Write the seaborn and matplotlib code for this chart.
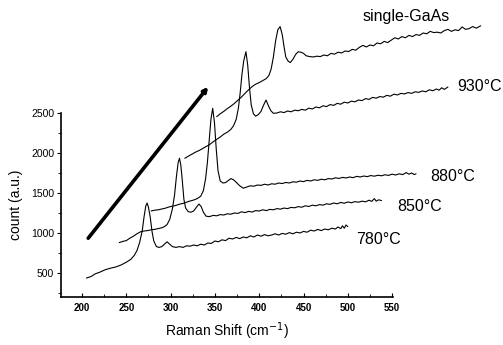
import numpy as np
import pandas as pd
import matplotlib
matplotlib.use("Agg")
import matplotlib.pyplot as plt
import seaborn as sns
from matplotlib.ticker import MultipleLocator

# === datos (desplazamiento Raman vs cuentas, curvas desplazadas) ===
x_780 = [205, 210, 215, 220, 226, 232, 238, 244, 250, 255, 259, 262, 265, 268, 270, 272, 273.5, 275, 277, 279,
         281, 284, 287, 290, 293, 296, 299, 302, 306, 310, 314, 318, 322, 326, 330, 334, 338, 342, 346, 350,
         354, 358, 362, 366, 370, 374, 378, 382, 386, 390, 394, 398, 402, 406, 410, 414, 418, 422, 426, 430,
         434, 438, 442, 446, 450, 454, 458, 462, 466, 470, 474, 478, 482, 486, 489, 492, 494, 496, 498, 500]
y_780 = [437, 455, 490, 510, 540, 560, 575, 600, 635, 670, 720, 780, 880, 1030, 1200, 1340, 1375, 1320, 1200, 1020,
         900, 830, 820, 830, 860, 890, 860, 830, 820, 830, 820, 840, 835, 850, 840, 860, 850, 875, 870, 900,
         890, 915, 905, 935, 925, 945, 930, 950, 940, 965, 950, 975, 960, 980, 965, 975, 990, 975, 995, 985,
         1005, 990, 1010, 1000, 1020, 1010, 1035, 1025, 1045, 1030, 1050, 1040, 1060, 1050, 1075, 1055, 1090, 1060, 1100, 1080]

x_850 = [242, 246, 250, 254, 258, 262, 266, 270, 274, 278, 282, 286, 290, 293, 296, 299, 302, 304.5, 306.5, 308.5,
         310, 311.5, 313, 315, 317, 320, 323, 326, 329, 332, 334.5, 337, 340, 344, 348, 352, 356, 360, 364, 368,
         372, 376, 380, 384, 388, 392, 396, 400, 404, 408, 412, 416, 420, 424, 428, 432, 436, 440, 444, 448,
         452, 456, 460, 464, 468, 472, 476, 480, 484, 488, 492, 496, 500, 504, 508, 512, 516, 520, 524, 527,
         530, 532, 535, 538]
y_850 = [880, 895, 905, 935, 960, 990, 1015, 1025, 1030, 1040, 1045, 1055, 1065, 1080, 1105, 1170, 1300, 1480, 1700, 1880,
         1934, 1850, 1680, 1420, 1310, 1266, 1260, 1275, 1320, 1362, 1330, 1260, 1210, 1205, 1220, 1215, 1230, 1225, 1240, 1235,
         1250, 1245, 1265, 1255, 1270, 1262, 1280, 1275, 1290, 1280, 1295, 1290, 1305, 1298, 1312, 1305, 1320, 1315, 1330, 1322,
         1340, 1332, 1348, 1340, 1355, 1348, 1365, 1358, 1375, 1365, 1382, 1372, 1388, 1378, 1392, 1385, 1398, 1390, 1410, 1395,
         1430, 1398, 1415, 1405]

x_880 = [278, 282, 286, 290, 294, 298, 302, 306, 310, 314, 318, 322, 326, 330, 334, 337, 339.5, 341.5, 343.5, 345.5,
         347.5, 349.5, 351.5, 353.5, 356, 359, 362, 365, 368, 371, 374, 378, 382, 386, 390, 394, 398, 402, 406, 410,
         414, 418, 422, 426, 430, 434, 438, 442, 446, 450, 454, 458, 462, 466, 470, 474, 478, 482, 486, 490,
         494, 498, 502, 506, 510, 514, 518, 522, 526, 530, 534, 538, 542, 546, 550, 554, 558, 562, 566, 569,
         572, 575, 577]
y_880 = [1275, 1285, 1290, 1300, 1310, 1325, 1335, 1345, 1360, 1370, 1385, 1400, 1412, 1430, 1460, 1530, 1680, 1880, 2150, 2420,
         2559, 2380, 2050, 1780, 1650, 1625, 1630, 1655, 1680, 1665, 1635, 1590, 1560, 1575, 1590, 1585, 1600, 1595, 1610, 1600,
         1615, 1610, 1625, 1618, 1632, 1625, 1640, 1635, 1650, 1642, 1658, 1650, 1665, 1658, 1672, 1665, 1680, 1675, 1690, 1682,
         1695, 1688, 1700, 1692, 1708, 1700, 1712, 1705, 1718, 1710, 1722, 1715, 1728, 1720, 1735, 1725, 1740, 1730, 1755, 1735,
         1750, 1730, 1740]

x_930 = [316, 320, 324, 328, 332, 336, 340, 344, 348, 352, 356, 360, 364, 368, 371, 374, 376.5, 378.5, 380.5, 382.5,
         385, 387, 389, 391, 393.5, 396, 399, 402, 405, 407.7, 410, 413, 416, 420, 424, 428, 432, 436, 440, 444,
         448, 452, 456, 460, 464, 468, 472, 476, 480, 484, 488, 492, 496, 500, 504, 508, 512, 516, 520, 524,
         528, 532, 536, 540, 544, 548, 552, 556, 560, 564, 568, 572, 576, 580, 584, 588, 592, 596, 600, 603,
         606, 609, 613]
y_930 = [1934, 1960, 1985, 2010, 2030, 2055, 2080, 2105, 2140, 2170, 2200, 2235, 2260, 2295, 2340, 2420, 2560, 2750, 2980, 3150,
         3266, 3100, 2820, 2600, 2490, 2460, 2480, 2520, 2600, 2662, 2600, 2530, 2496, 2500, 2515, 2505, 2525, 2515, 2535, 2528,
         2545, 2535, 2560, 2550, 2575, 2565, 2590, 2580, 2605, 2595, 2620, 2610, 2635, 2625, 2648, 2640, 2662, 2655, 2680, 2670,
         2695, 2685, 2705, 2698, 2720, 2710, 2735, 2725, 2745, 2738, 2755, 2745, 2765, 2758, 2775, 2765, 2790, 2778, 2800, 2785,
         2815, 2795, 2825]

x_single = [352, 356, 360, 364, 368, 372, 376, 380, 384, 388, 392, 396, 400, 404, 408, 411, 413.5, 416, 418.5, 421,
            423.6, 426, 428, 430, 432.5, 435, 438, 441, 444, 447, 450, 453, 457, 461, 465, 469, 473, 477, 481, 485,
            489, 493, 497, 501, 505, 509, 513, 517, 521, 525, 529, 533, 537, 541, 545, 549, 553, 557, 561, 565,
            569, 573, 577, 581, 585, 589, 593, 597, 601, 605, 609, 613, 617, 621, 625, 629, 633, 637, 641, 645, 650]
y_single = [2454, 2490, 2520, 2555, 2585, 2620, 2660, 2700, 2745, 2790, 2830, 2860, 2880, 2905, 2930, 2970, 3050, 3200, 3400, 3540,
            3579, 3480, 3330, 3200, 3150, 3130, 3170, 3230, 3265, 3260, 3245, 3215, 3205, 3200, 3210, 3205, 3225, 3215, 3245, 3235,
            3260, 3250, 3275, 3268, 3295, 3285, 3320, 3345, 3325, 3350, 3340, 3375, 3365, 3395, 3380, 3410, 3440, 3425, 3455, 3440,
            3470, 3455, 3480, 3470, 3500, 3490, 3520, 3505, 3510, 3500, 3530, 3545, 3520, 3540, 3530, 3575, 3545, 3555, 3580, 3560, 3590]

curvas = [
    ("780°C", x_780, y_780, (509, 925)),
    ("850°C", x_850, y_850, (556, 1331)),
    ("880°C", x_880, y_880, (593, 1706)),
    ("930°C", x_930, y_930, (623, 2825)),
    ("single-GaAs", x_single, y_single, (517, 3700)),
]

# flecha gruesa (inicio, fin)
flecha_ini = (207, 935)
flecha_fin = (342.5, 2828)

# === estilo ===
sns.set_style("ticks")
plt.rcParams['font.family'] = ['Liberation Sans', 'DejaVu Sans']
plt.rcParams['text.color'] = 'black'
plt.rcParams['axes.labelcolor'] = 'black'
plt.rcParams['xtick.color'] = 'black'
plt.rcParams['ytick.color'] = 'black'

fig = plt.figure(figsize=(5.03, 3.45), dpi=100)
ax = fig.add_axes([0.1213, 0.1391, 0.66, 0.5334])

for nombre, xs, ys, pos_txt in curvas:
    df = pd.DataFrame({"x": xs, "y": ys})
    sns.lineplot(data=df, x="x", y="y", ax=ax, color="black", lw=0.8, sort=False, estimator=None)
    ax.text(pos_txt[0], pos_txt[1], nombre, fontsize=11.5, va="center", ha="left", clip_on=False)

for ln in ax.lines:
    ln.set_clip_on(False)

ax.annotate("", xy=flecha_fin, xytext=flecha_ini, annotation_clip=False,
            arrowprops=dict(arrowstyle="-|>", lw=2.6, color="black", mutation_scale=6,
                            shrinkA=0, shrinkB=0))

ax.set_xlim(176.3, 551)
ax.set_ylim(200, 2500)
ax.xaxis.set_major_locator(MultipleLocator(50))
ax.xaxis.set_minor_locator(MultipleLocator(25))
ax.yaxis.set_major_locator(MultipleLocator(500))
ax.yaxis.set_minor_locator(MultipleLocator(250))
ax.set_yticks([500, 1000, 1500, 2000, 2500])

ax.tick_params(axis="x", which="major", direction="in", length=3, width=0.8, labelsize=7, pad=4)
ax.tick_params(axis="x", which="minor", direction="in", length=2, width=0.6)
ax.tick_params(axis="y", which="major", direction="out", length=3, width=0.8, labelsize=7.5, pad=2)
ax.tick_params(axis="y", which="minor", direction="out", length=2, width=0.6)
for lb in ax.get_xticklabels():
    lb.set_fontweight("bold")

ax.set_xlabel("Raman Shift (cm$^{-1}$)", fontsize=10, labelpad=6)
ax.set_ylabel("count (a.u.)", fontsize=10, labelpad=6)

sns.despine(ax=ax)
for s in ["left", "bottom"]:
    ax.spines[s].set_linewidth(1.2)
    ax.spines[s].set_color("black")

fig.savefig("out.png", dpi=100)
